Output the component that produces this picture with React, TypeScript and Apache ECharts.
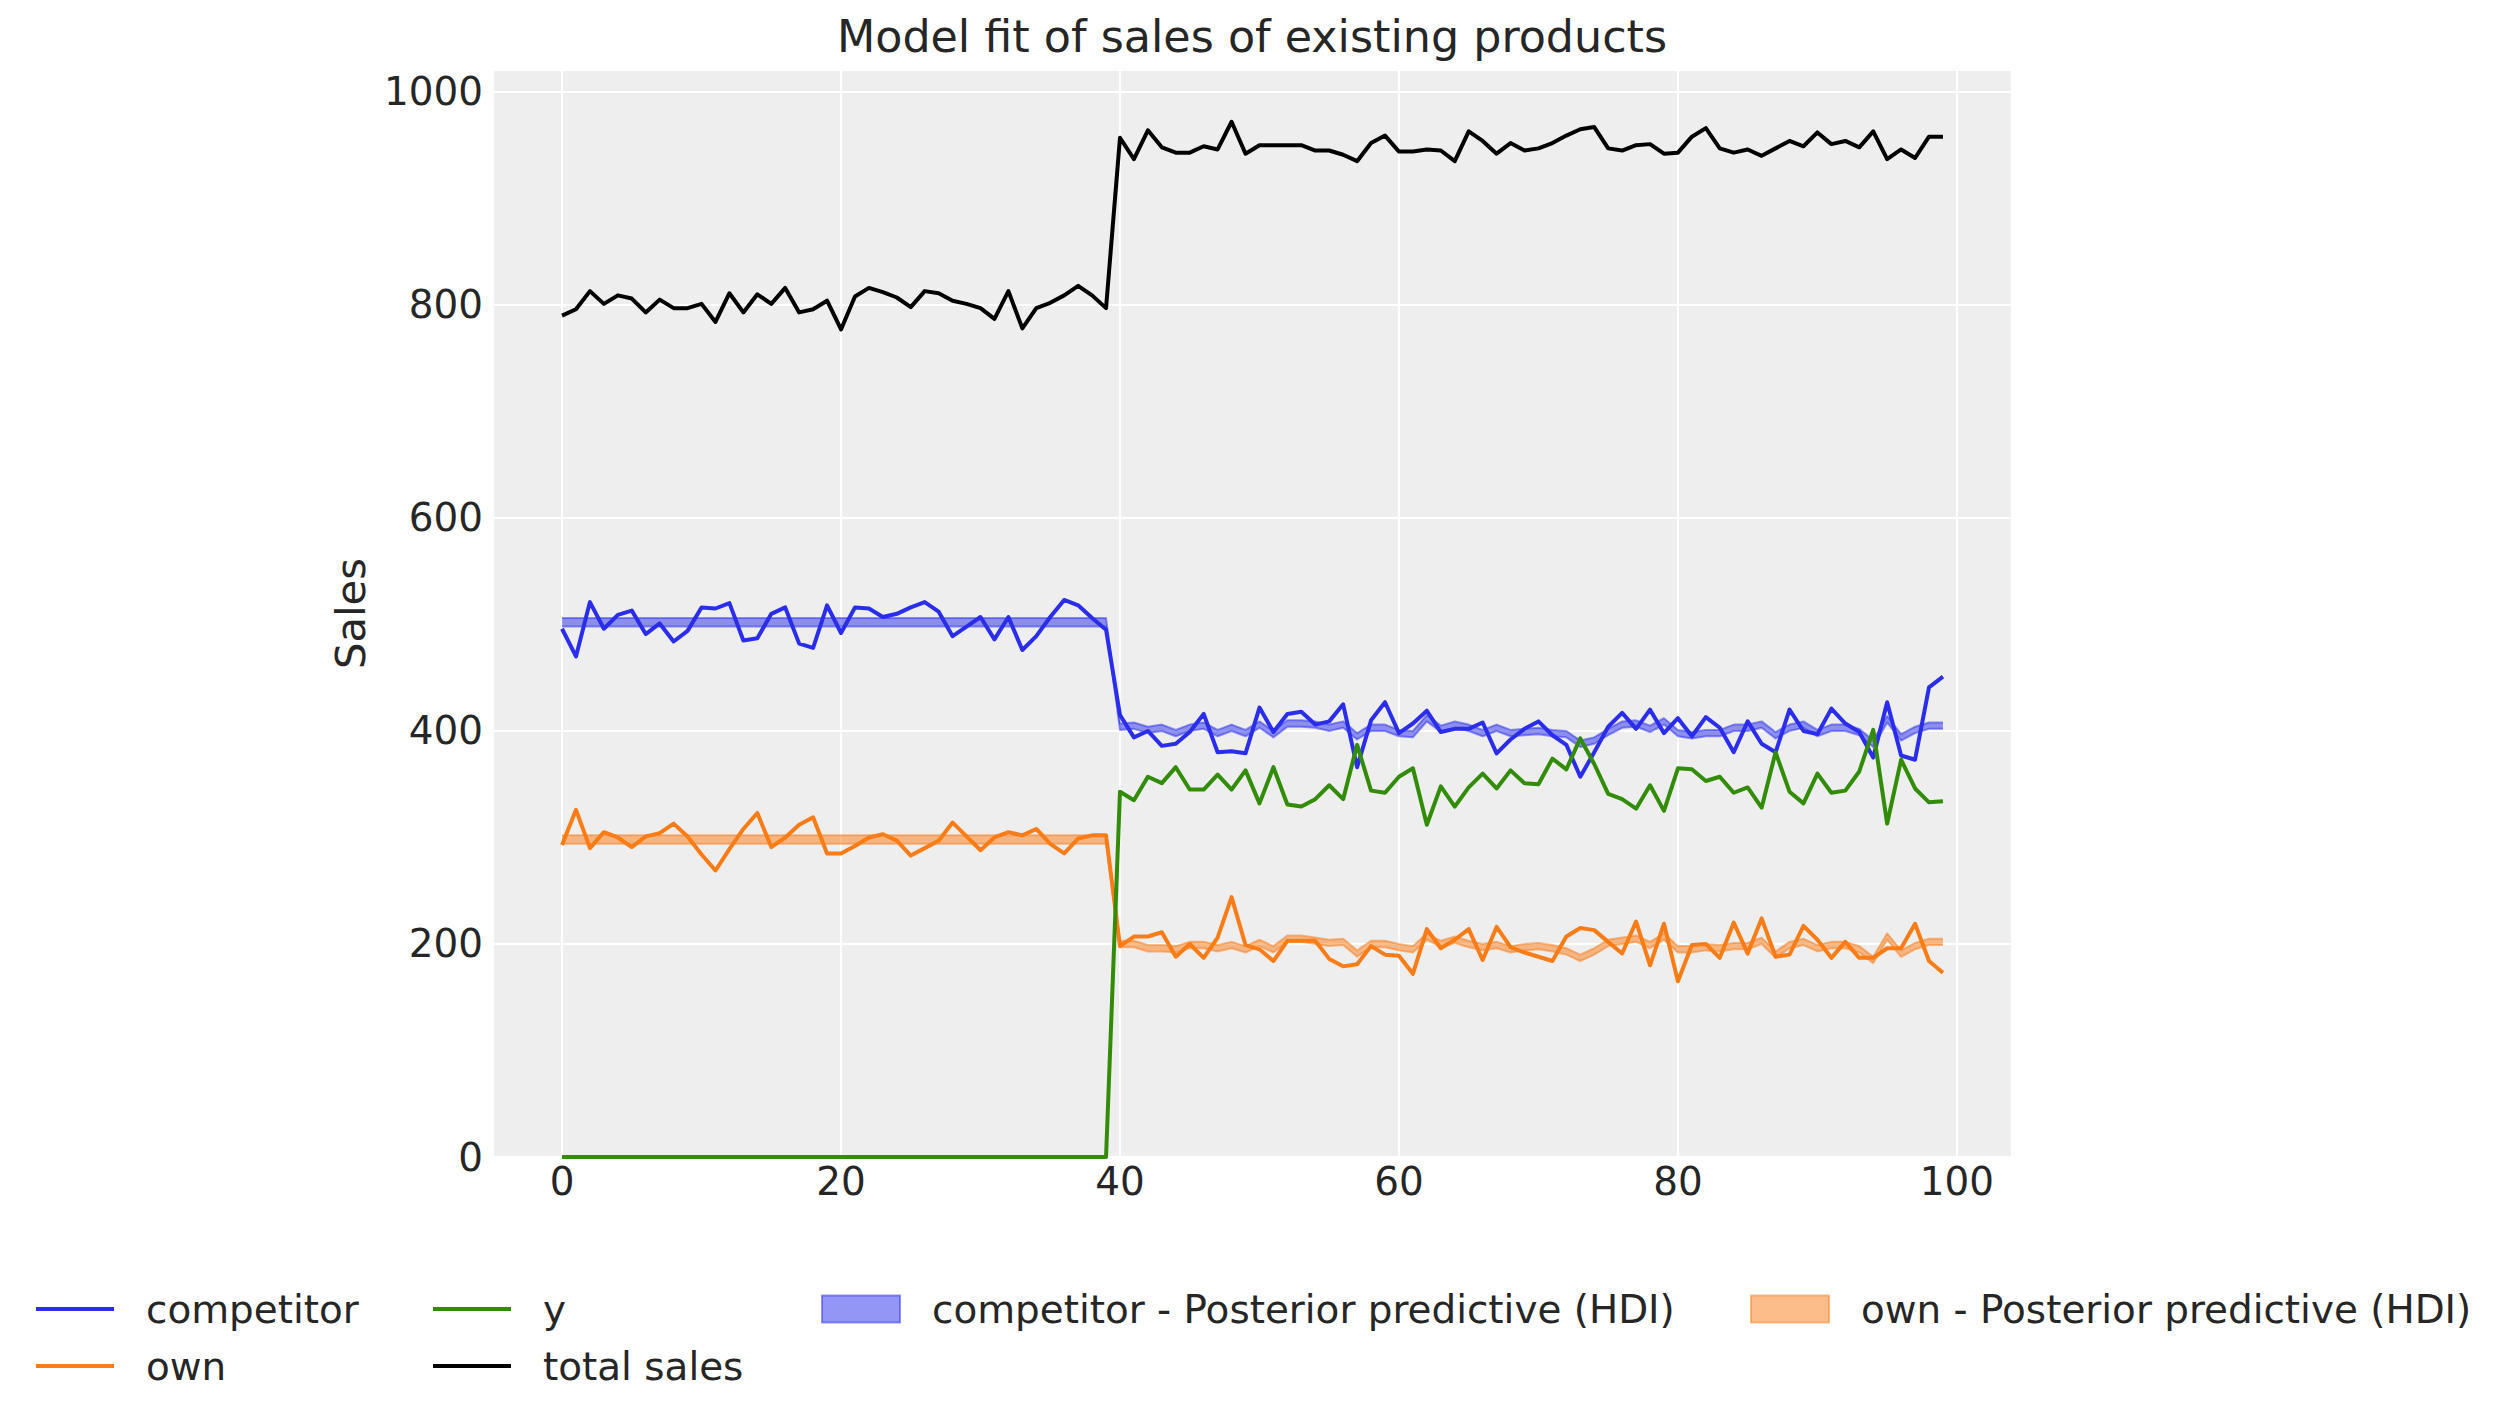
import React, { useEffect, useRef } from "react";
import * as echarts from "echarts";

const FONT = "DejaVu Sans";
const TEXT = "#262626";
const BLUE = "#2a2eec";
const ORANGE = "#fa7c17";
const GREEN = "#328c06";
const BLACK = "#000000";
const BLUE_A = "rgba(42,46,236,0.5)";
const ORANGE_A = "rgba(250,124,23,0.5)";

const chartTitle = "Model fit of sales of existing products";
const yAxisTitle = "Sales";
const xTickStep = 20;
const yTickStep = 200;

// observed series (index 0..99)
const competitor = [
  496, 470, 521, 496, 509, 513, 491, 501, 484, 494, 516, 515, 520, 485, 487, 510, 516, 482, 478, 518,
  492, 516, 515, 507, 510, 516, 521, 512, 489, 498, 507, 486, 507, 476, 489, 507, 523, 518, 506, 495,
  415, 394, 400, 386, 388, 399, 416, 380, 381, 379, 422, 399, 416, 418, 406, 409, 425, 366, 410, 427,
  398, 407, 419, 399, 402, 402, 408, 379, 392, 402, 409, 396, 387, 357, 380, 404, 417, 402, 420, 398,
  412, 395, 413, 403, 380, 409, 388, 380, 420, 400, 397, 421, 407, 399, 375, 427, 377, 373, 441, 451,
];

const own = [
  293, 326, 290, 305, 300, 291, 301, 304, 313, 301, 284, 269, 289, 308, 323, 291, 300, 312, 319, 285,
  285, 292, 300, 303, 297, 283, 290, 297, 314, 301, 288, 300, 305, 302, 308, 294, 285, 299, 302, 302,
  198, 207, 207, 211, 188, 200, 187, 206, 244, 199, 195, 184, 203, 203, 203, 186, 179, 181, 198, 190,
  189, 172, 214, 196, 204, 214, 185, 216, 197, 192, 188, 184, 207, 215, 213, 202, 191, 221, 180, 219,
  165, 199, 200, 187, 220, 191, 224, 188, 190, 217, 204, 187, 202, 187, 187, 196, 196, 219, 184, 173,
];

const ySeries = [
  0, 0, 0, 0, 0, 0, 0, 0, 0, 0, 0, 0, 0, 0, 0, 0, 0, 0, 0, 0,
  0, 0, 0, 0, 0, 0, 0, 0, 0, 0, 0, 0, 0, 0, 0, 0, 0, 0, 0, 0,
  343, 335, 357, 351, 366, 345, 345, 359, 345, 363, 332, 366, 331, 329, 336, 349, 336, 387, 344, 342,
  357, 365, 312, 348, 329, 347, 360, 346, 363, 351, 350, 374, 364, 393, 369, 341, 336, 327, 349, 325,
  365, 364, 353, 357, 342, 347, 328, 380, 343, 332, 360, 342, 344, 362, 401, 313, 373, 346, 333, 334,
];

const totalSales = [
  790, 796, 813, 801, 809, 806, 793, 805, 797, 797, 801, 784, 811, 793, 810, 801, 816, 793, 796, 804,
  777, 808, 816, 812, 807, 798, 813, 811, 804, 801, 797, 787, 813, 778, 797, 802, 809, 818, 809, 797,
  957, 937, 964, 948, 943, 943, 949, 946, 972, 942, 950, 950, 950, 950, 945, 945, 941, 935, 952, 959,
  944, 944, 946, 945, 935, 963, 954, 942, 952, 945, 947, 952, 959, 965, 967, 947, 945, 950, 951, 942,
  943, 958, 966, 947, 943, 946, 940, 947, 954, 949, 962, 951, 954, 948, 963, 937, 946, 938, 958, 958,
];

// posterior predictive HDI bounds
const competitorLow = [
  498, 498, 498, 498, 498, 498, 498, 498, 498, 498, 498, 498, 498, 498, 498, 498, 498, 498, 498, 498,
  498, 498, 498, 498, 498, 498, 498, 498, 498, 498, 498, 498, 498, 498, 498, 498, 498, 498, 498, 498,
  401, 402, 398, 400, 395, 400, 402, 395, 400, 395, 403, 394, 404, 404, 403, 400, 403, 392, 400, 400,
  395, 394, 409, 399, 403, 400, 395, 400, 395, 396, 397, 395, 394, 385, 388, 396, 403, 404, 399, 406,
  395, 393, 395, 395, 400, 400, 403, 393, 400, 403, 395, 400, 400, 396, 385, 408, 391, 398, 402, 402,
];

const competitorHigh = [
  506, 506, 506, 506, 506, 506, 506, 506, 506, 506, 506, 506, 506, 506, 506, 506, 506, 506, 506, 506,
  506, 506, 506, 506, 506, 506, 506, 506, 506, 506, 506, 506, 506, 506, 506, 506, 506, 506, 506, 506,
  407, 408, 404, 406, 401, 406, 408, 401, 406, 401, 409, 400, 410, 410, 409, 406, 409, 398, 406, 406,
  401, 400, 415, 405, 409, 406, 401, 406, 401, 402, 403, 401, 400, 391, 394, 402, 409, 410, 405, 412,
  401, 399, 401, 401, 406, 406, 409, 399, 406, 409, 401, 406, 406, 402, 391, 414, 397, 404, 408, 408,
];

const ownLow = [
  294, 294, 294, 294, 294, 294, 294, 294, 294, 294, 294, 294, 294, 294, 294, 294, 294, 294, 294, 294,
  294, 294, 294, 294, 294, 294, 294, 294, 294, 294, 294, 294, 294, 294, 294, 294, 294, 294, 294, 294,
  197, 197, 193, 193, 192, 196, 196, 193, 196, 192, 198, 192, 202, 202, 200, 198, 199, 188, 197, 197,
  194, 192, 204, 197, 201, 197, 194, 196, 192, 194, 195, 193, 190, 184, 190, 198, 200, 202, 196, 204,
  192, 192, 194, 193, 195, 195, 200, 187, 196, 199, 193, 196, 196, 192, 182, 204, 188, 195, 199, 199,
];

const ownHigh = [
  302, 302, 302, 302, 302, 302, 302, 302, 302, 302, 302, 302, 302, 302, 302, 302, 302, 302, 302, 302,
  302, 302, 302, 302, 302, 302, 302, 302, 302, 302, 302, 302, 302, 302, 302, 302, 302, 302, 302, 302,
  203, 203, 199, 199, 198, 202, 202, 199, 202, 198, 204, 198, 208, 208, 206, 204, 205, 194, 203, 203,
  200, 198, 210, 203, 207, 203, 200, 202, 198, 200, 201, 199, 196, 190, 196, 204, 206, 208, 202, 210,
  198, 198, 200, 199, 201, 201, 206, 193, 202, 205, 199, 202, 202, 198, 188, 210, 194, 201, 205, 205,
];

const NAME_COMP = "competitor";
const NAME_OWN = "own";
const NAME_Y = "y";
const NAME_TOTAL = "total sales";
const NAME_COMP_HDI = "competitor - Posterior predictive (HDI)";
const NAME_OWN_HDI = "own - Posterior predictive (HDI)";

const pairs = (vals: number[]) => vals.map((v, i) => [i, v]);

function lineSeries(name: string, vals: number[], color: string) {
  return {
    type: "line",
    name,
    data: pairs(vals),
    symbol: "none",
    showSymbol: false,
    lineStyle: { color, width: 4, join: "round", cap: "butt" },
    itemStyle: { color },
    emphasis: { disabled: true },
  };
}

function bandSeries(name: string, lo: number[], hi: number[], color: string, fill: string) {
  return {
    type: "custom",
    name,
    clip: true,
    silent: true,
    itemStyle: { color: fill },
    data: lo.map((l, i) => [i, l, hi[i]]),
    encode: { x: 0, y: [1, 2] },
    renderItem: (params: any, api: any) => {
      if (params.dataIndex !== 0) return null;
      const upper = hi.map((h, i) => api.coord([i, h]));
      const lower = lo.map((l, i) => api.coord([i, l]));
      const poly = upper.concat(lower.slice().reverse());
      return {
        type: "group",
        children: [
          { type: "polygon", shape: { points: poly }, style: { fill, stroke: null } },
          {
            type: "polyline",
            shape: { points: upper },
            style: { fill: null, stroke: fill, lineWidth: 2, lineJoin: "round" },
          },
          {
            type: "polyline",
            shape: { points: lower },
            style: { fill: null, stroke: fill, lineWidth: 2, lineJoin: "round" },
          },
        ],
      };
    },
  };
}

export default function App() {
  const ref = useRef<HTMLDivElement>(null);

  useEffect(() => {
    document.body.style.margin = "0";
    document.body.style.overflow = "hidden";
    if (!ref.current) return;
    const chart = echarts.init(ref.current, null, { renderer: "svg" });

    const legendText = {
      fontFamily: FONT,
      fontSize: 38.9,
      color: TEXT,
      lineHeight: 44,
      padding: [0, 0, 0, 27],
    };
    const legendBase = {
      orient: "vertical",
      top: 1287,
      itemGap: 13,
      selectedMode: false,
      textStyle: legendText,
      padding: 0,
    };

    const option = {
      animation: false,
      backgroundColor: "#ffffff",
      textStyle: { fontFamily: FONT },
      title: {
        text: chartTitle,
        left: "center",
        top: 9,
        textStyle: { fontFamily: FONT, fontSize: 44.4, fontWeight: "normal", color: TEXT },
      },
      grid: {
        left: 493,
        top: 70,
        width: 1519,
        height: 1087,
        show: true,
        backgroundColor: "#eeeeee",
        borderWidth: 0,
        containLabel: false,
      },
      xAxis: {
        type: "value",
        min: -4.95,
        max: 103.95,
        splitNumber: 5,
        axisLine: { show: false },
        axisTick: { show: false },
        splitLine: { show: true, lineStyle: { color: "#ffffff", width: 2.2 } },
        axisLabel: {
          fontFamily: FONT,
          fontSize: 38.9,
          color: TEXT,
          margin: 5,
          formatter: (v: number) => (Math.abs(v % xTickStep) < 1e-6 ? String(v) : ""),
        },
      },
      yAxis: {
        type: "value",
        min: 0,
        max: 1020.6,
        interval: yTickStep,
        axisLine: { show: false },
        axisTick: { show: false },
        splitLine: { show: true, lineStyle: { color: "#ffffff", width: 2.2 } },
        axisLabel: {
          fontFamily: FONT,
          fontSize: 38.9,
          color: TEXT,
          margin: 10,
          formatter: (v: number) => (Math.abs(v % yTickStep) < 1e-6 ? String(v) : ""),
        },
        name: yAxisTitle,
        nameLocation: "middle",
        nameRotate: 90,
        nameGap: 122,
        nameTextStyle: { fontFamily: FONT, fontSize: 41.7, color: TEXT },
      },
      legend: [
        {
          ...legendBase,
          left: 36,
          itemWidth: 78,
          itemHeight: 4,
          data: [
            { name: NAME_COMP, icon: "rect", itemStyle: { color: BLUE, borderWidth: 0 } },
            { name: NAME_OWN, icon: "rect", itemStyle: { color: ORANGE, borderWidth: 0 } },
          ],
        },
        {
          ...legendBase,
          left: 433,
          itemWidth: 78,
          itemHeight: 4,
          data: [
            { name: NAME_Y, icon: "rect", itemStyle: { color: GREEN, borderWidth: 0 } },
            { name: NAME_TOTAL, icon: "rect", itemStyle: { color: BLACK, borderWidth: 0 } },
          ],
        },
        {
          ...legendBase,
          left: 821,
          itemWidth: 78,
          itemHeight: 27,
          data: [
            {
              name: NAME_COMP_HDI,
              icon: "rect",
              itemStyle: { color: BLUE_A, borderColor: BLUE_A, borderWidth: 2 },
            },
          ],
        },
        {
          ...legendBase,
          left: 1750,
          itemWidth: 78,
          itemHeight: 27,
          data: [
            {
              name: NAME_OWN_HDI,
              icon: "rect",
              itemStyle: { color: ORANGE_A, borderColor: ORANGE_A, borderWidth: 2 },
            },
          ],
        },
      ],
      series: [
        lineSeries(NAME_COMP, competitor, BLUE),
        lineSeries(NAME_OWN, own, ORANGE),
        lineSeries(NAME_Y, ySeries, GREEN),
        lineSeries(NAME_TOTAL, totalSales, BLACK),
        bandSeries(NAME_COMP_HDI, competitorLow, competitorHigh, BLUE, BLUE_A),
        bandSeries(NAME_OWN_HDI, ownLow, ownHigh, ORANGE, ORANGE_A),
      ],
    };

    chart.setOption(option as any);
    return () => chart.dispose();
  }, []);

  return <div ref={ref} style={{ width: 2504, height: 1423 }} />;
}
